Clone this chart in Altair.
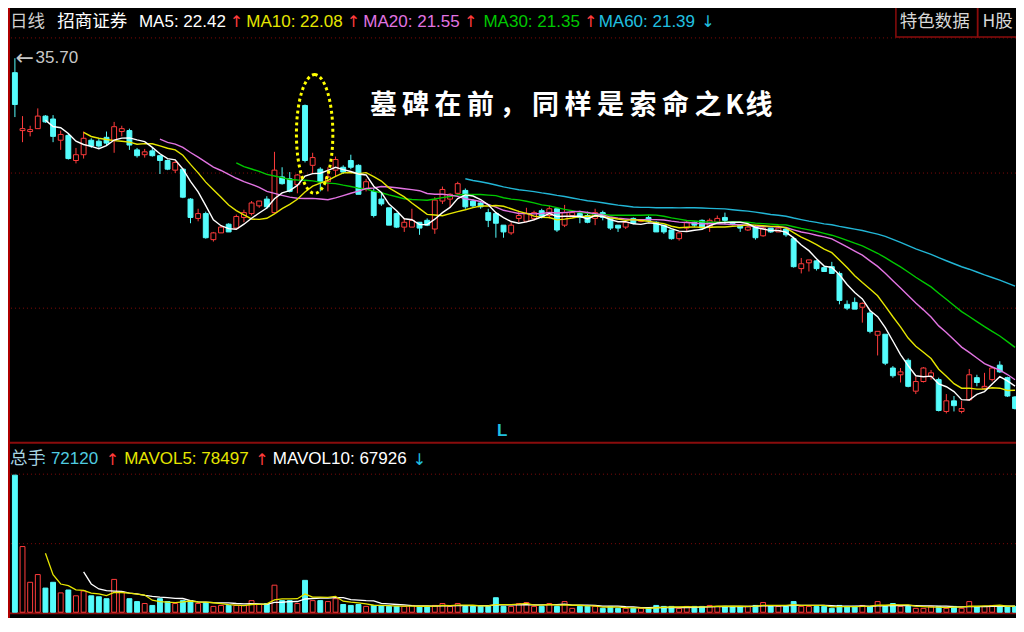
import altair as alt
import numpy as np
import pandas as pd

# ---------------- data ----------------
open_ = [34.95, 31.95, 31.90, 32.05, 32.70, 32.55, 31.45, 31.70, 30.40, 30.70,
         31.45, 31.40, 31.60, 31.45, 31.90, 31.95, 30.95, 30.70, 30.90, 30.65,
         30.40, 29.90, 29.95, 28.40, 27.40, 27.65, 26.30, 26.65, 27.10, 26.90,
         27.45, 27.65, 28.05, 28.40, 27.70, 29.55, 29.45, 29.15, 33.25, 30.15,
         29.95, 29.30, 29.90, 30.05, 30.40, 30.15, 28.90, 28.80, 28.40, 27.95,
         27.65, 26.95, 26.95, 27.20, 27.30, 26.85, 28.30, 28.40, 28.70, 28.85,
         28.30, 28.20, 27.70, 27.65, 27.05, 26.65, 27.40, 27.25, 27.40, 27.80,
         27.55, 27.90, 27.05, 27.55, 27.65, 27.55, 27.40, 27.70, 27.45, 27.05,
         26.95, 27.40, 27.25, 27.45, 27.20, 27.05, 26.80, 26.35, 26.90, 27.20,
         27.30, 26.95, 27.20, 27.45, 27.15, 27.05, 26.80, 26.95, 26.50, 26.90,
         26.70, 26.85, 26.35, 24.80, 25.10, 25.20, 24.85, 24.90, 24.55, 22.95,
         23.05, 22.80, 22.50, 21.35, 21.40, 19.65, 19.30, 20.05, 18.45, 18.95,
         19.20, 19.05, 17.40, 17.95, 17.40, 18.00, 19.15, 18.60, 19.05, 19.80,
         19.15, 18.15]
high_ = [35.70, 32.70, 32.20, 33.10, 32.75, 32.75, 31.95, 31.80, 31.05, 31.90,
         31.55, 31.55, 31.90, 32.40, 32.20, 32.05, 31.05, 31.00, 31.05, 30.65,
         30.45, 30.40, 30.00, 28.45, 27.90, 27.75, 26.70, 27.05, 27.15, 27.60,
         27.85, 28.30, 28.30, 28.55, 30.85, 30.05, 29.80, 29.70, 33.30, 30.80,
         30.05, 30.05, 30.60, 30.15, 30.70, 30.20, 29.45, 28.95, 28.70, 27.95,
         27.70, 27.40, 27.90, 27.20, 27.40, 28.50, 29.05, 28.70, 29.30, 28.95,
         28.40, 28.30, 27.90, 27.70, 27.05, 27.20, 27.80, 27.95, 27.80, 27.90,
         28.05, 27.90, 28.10, 27.80, 27.80, 27.75, 27.90, 27.80, 27.45, 27.05,
         27.30, 27.45, 27.35, 27.55, 27.25, 27.05, 26.80, 26.70, 27.30, 27.25,
         27.35, 27.40, 27.55, 27.70, 27.20, 27.05, 27.00, 27.05, 26.95, 26.90,
         26.95, 26.95, 26.45, 25.35, 25.25, 25.25, 24.95, 25.15, 24.65, 23.15,
         23.30, 23.05, 22.65, 21.55, 21.40, 19.75, 19.65, 20.15, 19.20, 19.70,
         19.55, 19.15, 18.30, 18.20, 17.95, 19.60, 19.30, 19.40, 19.70, 20.00,
         19.20, 18.20]
low_ = [32.65, 31.35, 31.65, 32.05, 32.35, 31.35, 30.95, 30.45, 30.25, 30.50,
        31.05, 31.05, 31.15, 30.80, 31.65, 30.95, 30.55, 30.55, 30.60, 29.70,
        29.90, 29.75, 28.45, 27.15, 27.25, 26.35, 26.20, 26.65, 26.70, 26.85,
        27.20, 27.55, 27.95, 27.90, 27.65, 29.15, 28.75, 28.70, 30.30, 29.70,
        28.80, 28.80, 29.55, 29.70, 29.95, 28.65, 28.80, 27.45, 28.05, 27.05,
        26.90, 26.70, 26.95, 26.55, 27.00, 26.60, 28.15, 27.95, 28.65, 27.90,
        27.95, 27.90, 26.95, 26.40, 26.40, 26.55, 27.20, 27.20, 27.30, 27.40,
        27.40, 26.70, 26.95, 27.45, 27.15, 27.15, 27.05, 27.30, 26.80, 26.70,
        26.85, 27.10, 27.20, 27.20, 26.70, 26.60, 26.30, 26.25, 26.70, 26.95,
        26.80, 26.70, 27.15, 27.10, 27.05, 26.70, 26.75, 26.30, 26.45, 26.65,
        26.70, 26.45, 24.85, 24.55, 24.65, 24.70, 24.65, 24.55, 22.95, 22.65,
        22.70, 22.00, 21.45, 20.30, 19.80, 19.15, 18.90, 18.65, 18.30, 18.90,
        19.05, 17.40, 17.30, 17.40, 17.30, 17.95, 18.70, 18.55, 18.95, 19.40,
        18.15, 17.50]
close_ = [33.30, 32.05, 32.00, 32.70, 32.40, 31.65, 31.75, 30.50, 30.70, 31.55,
          31.15, 31.15, 31.30, 32.15, 32.05, 31.20, 30.65, 30.85, 30.65, 30.40,
          29.95, 30.30, 28.50, 27.45, 27.65, 26.40, 26.65, 26.95, 26.70, 27.50,
          27.70, 28.20, 28.30, 28.00, 29.90, 29.20, 28.80, 29.65, 30.40, 30.55,
          29.30, 29.55, 30.45, 29.80, 30.05, 28.65, 29.30, 27.55, 28.15, 27.05,
          26.95, 27.20, 27.30, 26.90, 27.05, 28.35, 28.90, 28.65, 29.20, 28.00,
          28.05, 28.00, 27.30, 27.15, 26.70, 27.05, 27.55, 27.65, 27.70, 27.45,
          27.90, 26.80, 27.70, 27.70, 27.45, 27.20, 27.70, 27.45, 26.90, 26.90,
          27.20, 27.15, 27.30, 27.30, 26.70, 26.70, 26.35, 26.65, 27.20, 27.05,
          26.90, 27.30, 27.40, 27.30, 27.10, 26.90, 26.95, 26.40, 26.90, 26.70,
          26.90, 26.55, 24.90, 25.05, 25.25, 24.80, 24.65, 24.55, 23.15, 22.75,
          22.70, 23.00, 21.55, 21.55, 19.90, 19.25, 19.45, 18.70, 18.95, 19.65,
          19.40, 17.45, 17.95, 17.70, 17.55, 19.30, 18.90, 18.70, 19.65, 19.45,
          18.20, 17.55]
volume = [1704000, 816000, 372000, 468000, 300000, 372000, 240000, 276000, 204000, 264000,
          204000, 192000, 168000, 408000, 252000, 168000, 132000, 108000, 84000, 168000,
          132000, 108000, 144000, 144000, 108000, 120000, 72000, 84000, 84000, 84000,
          84000, 144000, 96000, 108000, 336000, 144000, 144000, 108000, 396000, 144000,
          144000, 132000, 168000, 96000, 84000, 96000, 72000, 84000, 84000, 72000,
          72000, 72000, 84000, 72000, 72000, 84000, 108000, 72000, 108000, 72000,
          72000, 72000, 72000, 180000, 72000, 72000, 108000, 120000, 72000, 72000,
          108000, 72000, 132000, 48000, 72000, 72000, 72000, 48000, 72000, 48000,
          48000, 48000, 48000, 48000, 84000, 72000, 72000, 48000, 72000, 72000,
          72000, 84000, 72000, 72000, 72000, 72000, 72000, 84000, 120000, 72000,
          72000, 72000, 132000, 72000, 72000, 72000, 72000, 48000, 84000, 72000,
          72000, 84000, 72000, 132000, 72000, 108000, 72000, 72000, 48000, 48000,
          72000, 72000, 48000, 72000, 48000, 132000, 72000, 72000, 84000, 72000,
          72000, 72120]

period_label = "日线"
stock_name = "招商证券"
ma_labels = ["MA5: 22.42", "MA10: 22.08", "MA20: 21.55", "MA30: 21.35", "MA60: 21.39"]
ma_arrows = ["↑", "↑", "↑", "↑", "↓"]
vol_title = "总手"
vol_labels = [": 72120", "MAVOL5: 78497", "MAVOL10: 67926"]
vol_arrows = ["↑", "↑", "↓"]
max_price_label = "35.70"
annotation = "墓碑在前，同样是索命之K线"
tab_labels = ["特色数据", "H股"]
marker_label = "L"

# ---------------- styling / layout ----------------
W, H = 1008, 610
RED = "#ff3c3c"
CYAN = "#54fcfc"
WHITE = "#ffffff"
YEL = "#e6e600"
MAG = "#e274e2"
GRN = "#00c800"
TEAL = "#22b6d6"
GRID = "#800a0a"
LATIN = "Liberation Sans"
ARROWF = "DejaVu Sans"
CJK = "Noto Sans CJK SC"

I0, STEP = 7.0, 7.756
XS = alt.Scale(domain=[(0 - I0) / STEP, (1024 - I0) / STEP], nice=False, zero=False)
PS = alt.Scale(domain=[6.70, 38.30], nice=False, zero=False)
VS = alt.Scale(domain=[-72000, 7512000], nice=False, zero=False)
RX = alt.Scale(domain=[0, 1024], nice=False, zero=False)
RY = alt.Scale(domain=[0, 632], reverse=True, nice=False, zero=False)

n = len(close_)
df = pd.DataFrame({"i": np.arange(n), "o": open_, "h": high_, "l": low_,
                   "c": close_, "v": volume})
df["up"] = df["c"] >= df["o"]
df["col"] = np.where(df["up"], RED, CYAN)
df["top"] = df[["o", "c"]].max(axis=1)
df["bot"] = df[["o", "c"]].min(axis=1)
df["x0"] = df["i"] - 0.32
df["x1"] = df["i"] + 0.32
df["z"] = 0
for p in [5, 10, 20, 30, 60]:
    df[f"ma{p}"] = df["c"].rolling(p).mean()
df["mv5"] = df["v"].rolling(5).mean()
df["mv10"] = df["v"].rolling(10).mean()

layers = []

# grid / frame lines
def hrules(rows, color, width, dash=None):
    d = pd.DataFrame(rows, columns=["x1", "x2", "y"])
    kw = dict(color=color, strokeWidth=width)
    if dash:
        kw["strokeDash"] = dash
    return alt.Chart(d).mark_rule(**kw).encode(
        x=alt.X("x1:Q", scale=RX, axis=None), x2="x2:Q",
        y=alt.Y("y:Q", scale=RY, axis=None))

layers.append(hrules([(3, 1024, 31), (3, 1024, 171), (3, 1024, 311),
                      (3, 1024, 483), (3, 1024, 555)], GRID, 1, [1, 3]))
layers.append(hrules([(0, 1024, 450.5), (0, 1024, 627)], "#8a0c0c", 2))
vb = pd.DataFrame({"x": [1], "y1": [0], "y2": [632]})
layers.append(alt.Chart(vb).mark_rule(color="#b00000", strokeWidth=2).encode(
    x=alt.X("x:Q", scale=RX, axis=None),
    y=alt.Y("y1:Q", scale=RY, axis=None), y2="y2:Q"))
boxes = pd.DataFrame({"x1": [902, 985], "x2": [985, 1040], "y1": [-2, -2], "y2": [30, 30]})
layers.append(alt.Chart(boxes).mark_rect(fillOpacity=0, stroke="#8a0c0c", strokeWidth=1.5).encode(
    x=alt.X("x1:Q", scale=RX, axis=None), x2="x2:Q",
    y=alt.Y("y1:Q", scale=RY, axis=None), y2="y2:Q"))

# candles
base = alt.Chart(df)
for ya, yb in [("h", "top"), ("bot", "l")]:
    layers.append(base.mark_rule(strokeWidth=1).encode(
        x=alt.X("i:Q", scale=XS, axis=None),
        y=alt.Y(f"{ya}:Q", scale=PS, axis=None), y2=f"{yb}:Q",
        color=alt.Color("col:N", scale=None)))
layers.append(base.transform_filter("datum.up").mark_rect(
    fill="#000000", stroke=RED, strokeWidth=1).encode(
    x=alt.X("x0:Q", scale=XS, axis=None), x2="x1:Q",
    y=alt.Y("top:Q", scale=PS, axis=None), y2="bot:Q"))
layers.append(base.transform_filter("!datum.up").mark_rect(
    fill=CYAN, stroke=CYAN, strokeWidth=1).encode(
    x=alt.X("x0:Q", scale=XS, axis=None), x2="x1:Q",
    y=alt.Y("top:Q", scale=PS, axis=None), y2="bot:Q"))

# moving averages
for col, color in [("ma60", TEAL), ("ma30", GRN), ("ma20", MAG), ("ma10", YEL), ("ma5", WHITE)]:
    d = df[["i", col]].dropna()
    layers.append(alt.Chart(d).mark_line(color=color, strokeWidth=1.4).encode(
        x=alt.X("i:Q", scale=XS, axis=None),
        y=alt.Y(f"{col}:Q", scale=PS, axis=None)))

# volume bars
layers.append(base.transform_filter("datum.up").mark_rect(
    fill="#000000", stroke=RED, strokeWidth=1).encode(
    x=alt.X("x0:Q", scale=XS, axis=None), x2="x1:Q",
    y=alt.Y("v:Q", scale=VS, axis=None), y2="z:Q"))
layers.append(base.transform_filter("!datum.up").mark_rect(
    fill=CYAN, stroke=CYAN, strokeWidth=1).encode(
    x=alt.X("x0:Q", scale=XS, axis=None), x2="x1:Q",
    y=alt.Y("v:Q", scale=VS, axis=None), y2="z:Q"))
for col, color in [("mv10", WHITE), ("mv5", YEL)]:
    d = df[["i", col]].dropna()
    layers.append(alt.Chart(d).mark_line(color=color, strokeWidth=1.3).encode(
        x=alt.X("i:Q", scale=XS, axis=None),
        y=alt.Y(f"{col}:Q", scale=VS, axis=None)))

# texts
def texts(rows, font, size, weight="normal", align="left"):
    d = pd.DataFrame(rows, columns=["t", "x", "y", "col"])
    return alt.Chart(d).mark_text(font=font, fontSize=size, fontWeight=weight,
                                  align=align, baseline="middle").encode(
        x=alt.X("x:Q", scale=RX, axis=None), y=alt.Y("y:Q", scale=RY, axis=None),
        text="t:N", color=alt.Color("col:N", scale=None))

ma_cols = [WHITE, YEL, MAG, GRN, "#20c0e0"]
ma_x = [133, 242, 361, 483, 600]
arrow_x = [232, 351, 470, 592, 711]
hdr, arrows = [], []
for lab, ar, c, x, ax in zip(ma_labels, ma_arrows, ma_cols, ma_x, arrow_x):
    hdr.append((lab, x, 14, c))
    arrows.append((ar, ax, 15, RED if ar == "↑" else "#20c0e0"))
vol_cols = ["#50cce0", YEL, WHITE]
vol_x = [34, 118, 269]
varrow_x = [106, 258, 418]
for lab, ar, c, x, ax in zip(vol_labels, vol_arrows, vol_cols, vol_x, varrow_x):
    hdr.append((lab, x, 467, c))
    arrows.append((ar, ax, 468, RED if ar == "↑" else "#20c0e0"))
hdr.append((max_price_label, 28, 52, "#c8c8c8"))
layers.append(texts(hdr, LATIN, 17))
layers.append(texts(arrows, ARROWF, 16, "normal", "center"))
layers.append(texts([("←", 17, 52, "#c8c8c8")], ARROWF, 22, "normal", "center"))
layers.append(texts([(marker_label, 502, 438, "#20c0e0")], LATIN, 17, "bold", "center"))

cjk_rows = [(period_label, 2, 14, "#d0d0d0"), (stock_name, 50, 14, WHITE),
            (vol_title, 2, 467, "#a8d4e0"),
            (tab_labels[0], 906, 14, "#d8d8d8"), (tab_labels[1], 990, 14, "#d8d8d8")]
layers.append(texts(cjk_rows, CJK, 17.5))

char_x = [381.5, 414, 447, 480, 513, 546, 579, 612, 645, 678, 711, 738, 763]
ann = [(ch, x, 102, WHITE) for ch, x in zip(annotation, char_x)]
layers.append(texts(ann, CJK, 27, "bold", "center"))

# dotted ellipse around the tombstone candle
a = 0.307
k = 0.5523 * a
ELL = (f"M0,-1 C{k},-1 {a},-0.5523 {a},0 C{a},0.5523 {k},1 0,1 "
       f"C{-k},1 {-a},0.5523 {-a},0 C{-a},-0.5523 {-k},-1 0,-1 Z")
ed = pd.DataFrame({"x": [311.5], "y": [130.5]})
layers.append(alt.Chart(ed).mark_point(shape=ELL, size=14090, filled=False, color="#ffff00",
                                       strokeWidth=3, strokeDash=[3, 3], opacity=1).encode(
    x=alt.X("x:Q", scale=RX, axis=None), y=alt.Y("y:Q", scale=RY, axis=None)))

chart = alt.layer(*layers).resolve_scale(
    x="independent", y="independent"
).properties(
    width=W, height=H, background="#000000", padding=0,
    autosize=alt.AutoSizeParams(type="none")
).configure_view(stroke=None)

chart.save("out.html", embed_options={"renderer": "svg", "actions": False})
